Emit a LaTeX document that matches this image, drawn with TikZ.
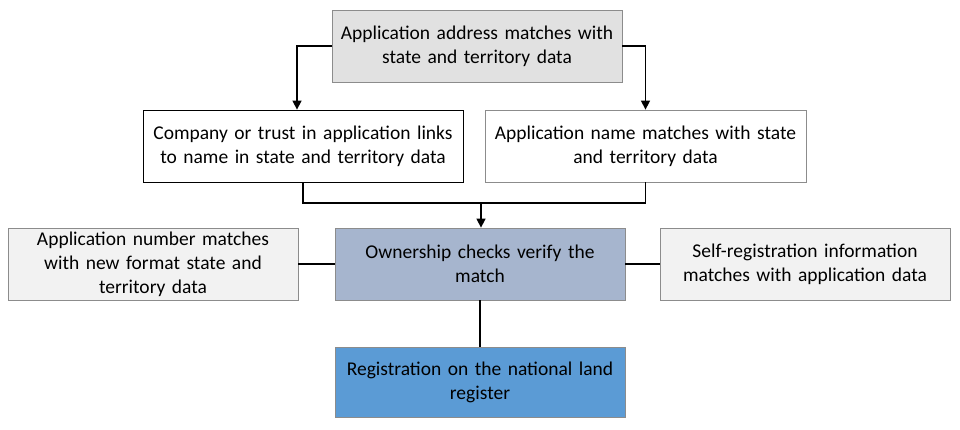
\documentclass[tikz,border=0pt]{standalone}
\usepackage{fontspec}
\setmainfont{Carlito}
\usetikzlibrary{arrows.meta}
\definecolor{topg}{HTML}{E1E1E1}
\definecolor{lightg}{HTML}{F2F2F2}
\definecolor{own}{HTML}{A6B5CE}
\definecolor{reg}{HTML}{5B9BD5}
\definecolor{bd}{HTML}{8C8C8C}
\begin{document}
\begin{tikzpicture}[x=1pt,y=-1pt,
 box/.style={draw=bd,line width=0.8pt,minimum width=290pt,minimum height=72pt,align=center,font=\fontsize{19.5}{24}\selectfont,inner sep=2pt},
 ln/.style={line width=1.5pt},
 arr/.style={ln,-{Triangle[length=9pt,width=9pt]}}]
\useasboundingbox (0,0) rectangle (960,430);
\node[box,fill=topg,text width=286pt] (top) at (477,46) {Application address matches with\\state and territory data};
\node[box,draw=black,fill=white,minimum width=320pt,text width=316pt] (lm) at (303,146) {Company or trust in application links\\to name in state and territory data};
\node[box,fill=white,minimum width=321pt,text width=316pt] (rm) at (645.5,146) {Application name matches with state\\and territory data};
\node[box,fill=own,text width=286pt] (own) at (480,264) {Ownership checks verify the\\match};
\node[box,fill=lightg,text width=286pt] (l) at (153,264) {Application number matches\\with new format state and\\territory data};
\node[box,fill=lightg,text width=286pt] (r) at (805,264) {Self-registration information\\matches with application data};
\node[box,fill=reg,minimum height=70pt,text width=286pt] (reg) at (480,382) {Registration on the national land\\register};
\coordinate (j) at (481,203);
\draw[arr] (top.west) -| (lm.north -| 297,0);
\draw[arr] (top.east) -| (rm.north);
\draw[ln] (lm.south) |- (j);
\draw[ln] (rm.south) |- (j);
\draw[arr] (j) -- (own.north -| j);
\draw[ln] (l.east) -- (own.west);
\draw[ln] (own.east) -- (r.west);
\draw[ln] (own.south) -- (reg.north);
\end{tikzpicture}
\end{document}
